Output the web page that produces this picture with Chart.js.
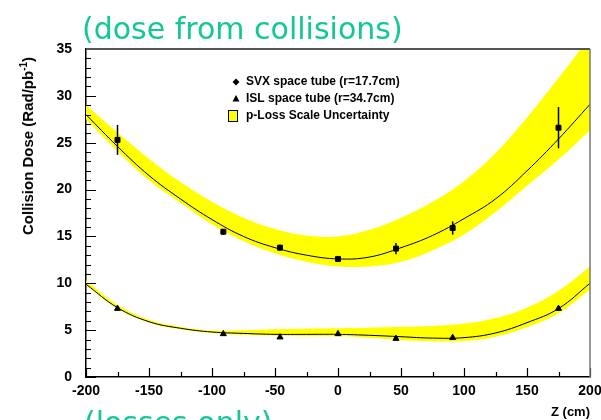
<!DOCTYPE html>
<html>
<head>
<meta charset="utf-8">
<script src="https://cdn.jsdelivr.net/npm/chart.js@4.4.0/dist/chart.umd.min.js"></script>
<style>
html,body{margin:0;padding:0;background:#fff;}
#wrap{position:relative;width:601px;height:420px;overflow:hidden;}
.teal{position:absolute;font-family:"DejaVu Sans",sans-serif;font-size:30px;line-height:30px;color:#14c896;white-space:nowrap;}
#ytitle{position:absolute;left:27px;top:146px;transform:translate(-50%,-50%) rotate(-90deg);font:bold 15px "Liberation Sans",Arial,sans-serif;white-space:nowrap;color:#000;}
#ytitle sup{font-size:10px;}
#ztitle{position:absolute;right:11px;top:405px;font:bold 13px "Liberation Sans",Arial,sans-serif;line-height:13px;color:#000;}
</style>
</head>
<body>
<div id="wrap">
<canvas id="mycanvas" width="601" height="420"></canvas>
<div class="teal" style="left:82px;top:14px;">(dose from collisions)</div>
<div class="teal" style="left:84px;top:408px;">(losses only)</div>
<div id="ytitle">Collision Dose (Rad/pb<sup>-1</sup>)</div>
<div id="ztitle">Z (cm)</div>
</div>
<script>
// measured points (z in cm)
var zPoints = [-175, -91, -46, 0, 46, 91, 175];
var svxDose = [25.3, 15.5, 13.8, 12.6, 13.7, 15.9, 26.6];
var svxErr  = [1.6, 0.3, 0.3, 0.2, 0.6, 0.7, 2.2];
var islDose = [7.3, 4.6, 4.25, 4.6, 4.1, 4.2, 7.3];
var islErr  = [0.2, 0.2, 0.2, 0.2, 0.2, 0.2, 0.2];

var zFit     = [-200, -175, -150, -125, -100, -75, -50, -25, 0, 25, 50, 75, 100, 125, 150, 175, 200];
var svxFit   = [28.0, 24.6, 21.5, 19.0, 16.8, 15.0, 13.8, 13.0, 12.6, 12.8, 13.8, 15.1, 16.9, 19.0, 22.0, 25.4, 29.1];
var svxUpper = [29.0, 26.1, 23.3, 20.8, 18.7, 17.0, 15.8, 15.1, 15.0, 15.7, 17.0, 18.7, 20.9, 23.9, 27.7, 31.9, 36.3];
var svxLower = [27.5, 24.1, 21.0, 18.6, 16.3, 14.5, 13.2, 12.3, 11.8, 11.8, 12.3, 13.5, 15.2, 17.6, 20.4, 23.2, 26.3];
var islFit   = [9.9, 7.4, 5.9, 5.2, 4.8, 4.65, 4.55, 4.55, 4.55, 4.45, 4.3, 4.15, 4.2, 4.7, 5.8, 7.3, 10.0];
var islUpper = [10.3, 7.7, 6.1, 5.35, 4.95, 5.0, 5.1, 5.15, 5.2, 5.25, 5.35, 5.45, 5.7, 6.3, 7.4, 9.2, 11.8];
var islLower = [9.8, 7.3, 5.8, 5.1, 4.7, 4.5, 4.4, 4.35, 4.35, 4.2, 3.95, 3.8, 3.85, 4.3, 5.3, 6.8, 9.3];

var legendLabels = ['SVX space tube (r=17.7cm)', 'ISL space tube (r=34.7cm)', 'p-Loss Scale Uncertainty'];

function pts(xs, ys) {
    return xs.map(function (x, i) { return {x: x, y: ys[i]}; });
}

var yellow = '#ffff00';

function bandSet(data, fill) {
    return {
        data: data, fill: fill, backgroundColor: yellow, borderWidth: 0,
        pointRadius: 0, tension: 0.4, order: 3
    };
}
function fitSet(data) {
    return {
        data: data, fill: false, borderColor: '#000', borderWidth: 1,
        pointRadius: 0, tension: 0.4, order: 2
    };
}

// error bars, inward ticks, frame and legend
var extras = {
    id: 'extras',
    afterDatasetsDraw: function (chart) {
        var ctx = chart.ctx, xs = chart.scales.x, ys = chart.scales.y;
        var a = chart.chartArea;
        ctx.save();
        ctx.strokeStyle = '#000';
        ctx.lineWidth = 1.5;
        [[svxDose, svxErr], [islDose, islErr]].forEach(function (s) {
            zPoints.forEach(function (z, i) {
                var px = xs.getPixelForValue(z);
                ctx.beginPath();
                ctx.moveTo(px, ys.getPixelForValue(s[0][i] + s[1][i]));
                ctx.lineTo(px, ys.getPixelForValue(s[0][i] - s[1][i]));
                ctx.stroke();
            });
        });
        // ticks pointing into the plot
        ctx.lineWidth = 1.2;
        ctx.beginPath();
        for (var v = ys.min; v <= ys.max; v++) {
            var py = Math.round(ys.getPixelForValue(v)) + 0.5;
            var len = (v % 5 === 0) ? 10 : 5;
            ctx.moveTo(a.left, py);
            ctx.lineTo(a.left + len, py);
        }
        for (var z = xs.min; z <= xs.max; z += 25) {
            var px = Math.round(xs.getPixelForValue(z)) + 0.5;
            var l2 = (z % 50 === 0) ? 9 : 5;
            ctx.moveTo(px, a.bottom);
            ctx.lineTo(px, a.bottom - l2);
        }
        ctx.stroke();
        // top / right frame
        ctx.strokeStyle = '#555';
        ctx.lineWidth = 2;
        ctx.beginPath();
        ctx.moveTo(a.left, a.top);
        ctx.lineTo(a.right, a.top);
        ctx.stroke();
        ctx.strokeStyle = '#777';
        ctx.lineWidth = 1.5;
        ctx.beginPath();
        ctx.moveTo(a.right, a.top);
        ctx.lineTo(a.right, a.bottom);
        ctx.stroke();

        // legend
        var lx = 236, rows = [82, 99, 116];
        ctx.fillStyle = '#000';
        ctx.beginPath();
        ctx.moveTo(lx, rows[0] - 3.5);
        ctx.lineTo(lx + 3.5, rows[0]);
        ctx.lineTo(lx, rows[0] + 3.5);
        ctx.lineTo(lx - 3.5, rows[0]);
        ctx.closePath();
        ctx.fill();
        ctx.beginPath();
        ctx.moveTo(lx, rows[1] - 4);
        ctx.lineTo(lx + 3.5, rows[1] + 2.5);
        ctx.lineTo(lx - 3.5, rows[1] + 2.5);
        ctx.closePath();
        ctx.fill();
        ctx.fillStyle = yellow;
        ctx.fillRect(228, 110, 9, 11);
        ctx.strokeStyle = '#000';
        ctx.lineWidth = 1;
        ctx.strokeRect(228.5, 110.5, 9, 11);
        ctx.fillStyle = '#000';
        ctx.font = 'bold 12px "Liberation Sans", Arial, sans-serif';
        ctx.textBaseline = 'middle';
        legendLabels.forEach(function (t, i) {
            ctx.fillText(t, 246, rows[i]);
        });
        ctx.restore();
    }
};

var tickFont = {family: '"Liberation Sans", Arial, sans-serif', weight: 'bold', size: 14};

var ctx = document.getElementById('mycanvas');
var chart = new Chart(ctx, {
    type: 'line',
    data: {
        datasets: [
            bandSet(pts(zFit, svxUpper), '+1'),
            bandSet(pts(zFit, svxLower), false),
            bandSet(pts(zFit, islUpper), '+1'),
            bandSet(pts(zFit, islLower), false),
            fitSet(pts(zFit, svxFit)),
            fitSet(pts(zFit, islFit)),
            {
                label: legendLabels[0], data: pts(zPoints, svxDose), showLine: false,
                pointStyle: 'rect', pointRadius: 3.5, backgroundColor: '#000', borderColor: '#000', order: 1
            },
            {
                label: legendLabels[1], data: pts(zPoints, islDose), showLine: false,
                pointStyle: 'triangle', pointRadius: 3.5, backgroundColor: '#000', borderColor: '#000', order: 1
            }
        ]
    },
    options: {
        responsive: false,
        animation: false,
        devicePixelRatio: 1,
        layout: {padding: {top: 49, right: 11, left: 0, bottom: 0}},
        plugins: {legend: {display: false}, tooltip: {enabled: false}},
        scales: {
            x: {
                type: 'linear', min: -200, max: 200,
                ticks: {stepSize: 50, autoSkip: false, maxRotation: 0, color: '#000', font: tickFont, padding: 6},
                grid: {drawOnChartArea: false, drawTicks: false},
                border: {color: '#000', width: 1.5},
                afterFit: function (s) { s.height = 43; s.paddingLeft = 0; s.paddingRight = 0; }
            },
            y: {
                min: 0, max: 35,
                ticks: {stepSize: 5, color: '#000', font: tickFont, padding: 14},
                grid: {drawOnChartArea: false, drawTicks: false},
                border: {color: '#000', width: 1.5},
                afterFit: function (s) { s.width = 86; s.paddingTop = 0; s.paddingBottom = 0; }
            }
        }
    },
    plugins: [extras]
});
</script>
</body>
</html>
